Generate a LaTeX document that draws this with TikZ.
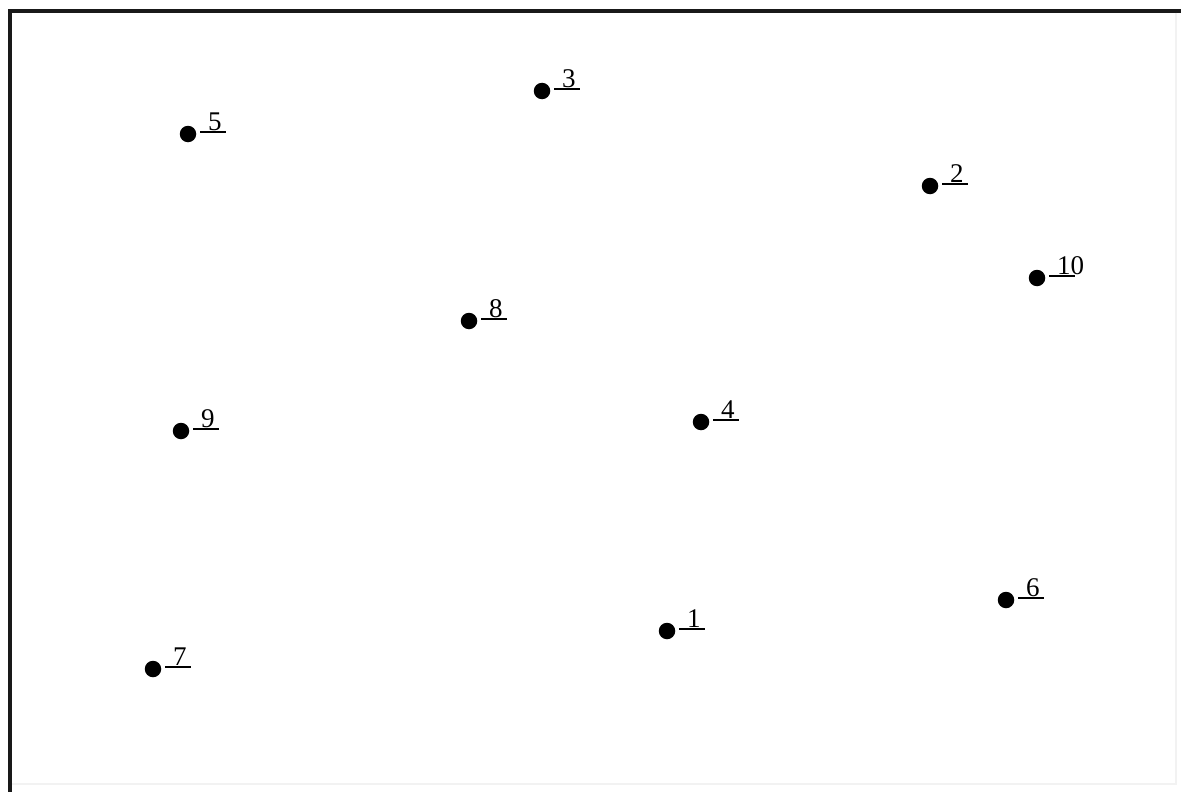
\documentclass[tikz,border=0pt]{standalone}
\usepackage{fontspec}
\setmainfont{Liberation Serif}
\begin{document}
\begin{tikzpicture}[x=1pt,y=-1pt,
  pt/.style={circle,fill=black,inner sep=0pt,minimum size=16.5pt},
  lbl/.style={anchor=base west,inner sep=0pt,font=\fontsize{27}{27}\selectfont},
  uline/.style={line width=1.6pt},
  frameline/.style={line width=4pt,black!90}]
\useasboundingbox (0,0) rectangle (1181,792);
\fill[white] (0,0) rectangle (1181,792);
\coordinate (tl) at (9.5,11);
\coordinate (tr) at (1181,11);
\coordinate (bl) at (9.5,792);
\draw[frameline] (tr) -- (tl) -- (bl);
\draw[black!5,line width=1.5pt] (1176,13) -- (1176,784) -- (12,784);
\foreach \n/\x/\y in {5/188/134, 3/542/91, 2/930/186, 10/1037/278, 8/469/321,
                      9/181/431, 4/701/422, 1/667/631, 6/1006/600, 7/153/669} {
  \node[pt] (p\n) at (\x,\y) {};
  \coordinate (a\n) at (\x+12,\y-2);
  \coordinate (b\n) at (\x+38,\y-2);
  \draw[uline] (a\n) -- (b\n);
  \node[lbl] (l\n) at (\x+20,\y-3.5) {\n};
}
\end{tikzpicture}
\end{document}
